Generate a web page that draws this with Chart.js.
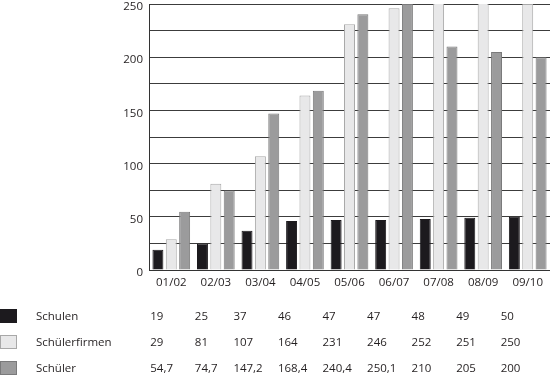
<!DOCTYPE html>
<html>
<head>
<meta charset="utf-8">
<script src="https://cdn.jsdelivr.net/npm/chart.js@4/dist/chart.umd.min.js"></script>
<style>
    html, body { margin: 0; padding: 0; background: #fff; }
    #wrap { width: 550px; height: 382px; }
</style>
</head>
<body>
<div id="wrap"><canvas id="chart" width="550" height="382"></canvas></div>
<script>
// --- Data ---
const years = ['01/02', '02/03', '03/04', '04/05', '05/06', '06/07', '07/08', '08/09', '09/10'];
const schulen = [19, 25, 37, 46, 47, 47, 48, 49, 50];
const schuelerfirmen = [29, 81, 107, 164, 231, 246, 252, 251, 250];
const schueler = [54.7, 74.7, 147.2, 168.4, 240.4, 250.1, 210, 205, 200];
const yTicks = [0, 50, 100, 150, 200, 250];

const FONT = '"Open Sans", "DejaVu Sans", sans-serif';
const TEXT = '#231f20';

const seriesStyle = [
    { label: 'Schulen', data: schulen, fill: '#1c1a1e', border: '#1c1a1e' },
    { label: 'Schülerfirmen', data: schuelerfirmen, fill: '#e8e8e9', border: '#a8a8a8' },
    { label: 'Schüler', data: schueler, fill: '#9b9b9c', border: '#7a7a7b' }
];

// format like the German table: 54,7
const fmt = v => String(v).replace('.', ',');

// --- Data table under the chart (swatch, name, one value per year) ---
const tablePlugin = {
    id: 'dataTable',
    afterDraw(chart) {
        const ctx = chart.ctx;
        const x = chart.scales.x;
        const rowY = [317, 343, 369];
        ctx.save();
        ctx.font = '11.5px ' + FONT;
        ctx.textBaseline = 'middle';
        ctx.textAlign = 'left';
        seriesStyle.forEach((s, r) => {
            const y = rowY[r];
            // swatch
            ctx.fillStyle = s.fill;
            ctx.fillRect(0, y - 8, 17, 14);
            ctx.strokeStyle = s.border;
            ctx.lineWidth = 1;
            ctx.strokeRect(0.5, y - 7.5, 16, 13);
            // name
            ctx.fillStyle = TEXT;
            ctx.fillText(s.label, 36, y);
            // values
            s.data.forEach((v, i) => {
                const shift = i < 2 ? -21 : -27;
                ctx.fillText(fmt(v), x.getPixelForValue(i) + shift, y);
            });
        });
        ctx.restore();
    }
};

new Chart(document.getElementById('chart'), {
    type: 'bar',
    data: {
        labels: years,
        datasets: seriesStyle.map(s => ({
            label: s.label,
            data: s.data,
            backgroundColor: s.fill,
            borderColor: s.border,
            borderWidth: 1,
            categoryPercentage: 0.9,
            barPercentage: 0.82
        }))
    },
    options: {
        responsive: false,
        animation: false,
        layout: { padding: 0 },
        plugins: {
            legend: { display: false },
            tooltip: { enabled: false }
        },
        scales: {
            x: {
                grid: { display: false, drawTicks: false },
                border: { color: '#333', width: 1 },
                ticks: { color: TEXT, font: { family: FONT, size: 11.5 }, padding: 6 },
                afterFit: s => { s.height = 112; }
            },
            y: {
                min: 0,
                max: 250,
                ticks: {
                    stepSize: 25,
                    color: TEXT,
                    font: { family: FONT, size: 11.5 },
                    padding: 6,
                    labelOffset: 3,
                    callback: v => yTicks.includes(v) ? v : ''
                },
                grid: { color: '#3c3c3c', lineWidth: 1, drawTicks: false },
                border: { color: '#333', width: 1 },
                afterFit: s => {
                    s.width = 149;
                    s.paddingTop = 4;
                    s.paddingBottom = 0;
                }
            }
        }
    },
    plugins: [tablePlugin]
});
</script>
</body>
</html>
